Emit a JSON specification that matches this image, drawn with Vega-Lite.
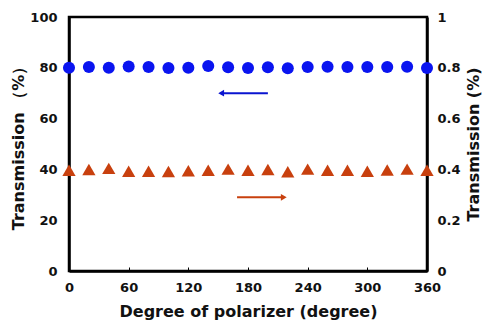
{
  "$schema": "https://vega.github.io/schema/vega-lite/v6.json",
  "width": 358,
  "height": 254,
  "autosize": "none",
  "padding": {"left": 69, "top": 17, "right": 56, "bottom": 51},
  "config": {
    "font": "DejaVu Sans",
    "view": {"stroke": "black", "strokeWidth": 2.5},
    "axis": {"labelFont": "DejaVu Sans", "labelFontWeight": "bold", "labelFontSize": 13, "labelColor": "#111", "titleFont": "DejaVu Sans", "titleFontWeight": "bold", "titleFontSize": 16, "titleColor": "#111", "grid": false, "domainColor": "black", "domainWidth": 2.5, "tickColor": "black"}
  },
  "datasets": {
    "blue": [
      {"deg": 0, "t": 80.0}, {"deg": 20, "t": 80.3}, {"deg": 40, "t": 80.0}, {"deg": 60, "t": 80.5},
      {"deg": 80, "t": 80.3}, {"deg": 100, "t": 79.9}, {"deg": 120, "t": 80.0}, {"deg": 140, "t": 80.7},
      {"deg": 160, "t": 80.2}, {"deg": 180, "t": 79.9}, {"deg": 200, "t": 80.2}, {"deg": 220, "t": 79.8},
      {"deg": 240, "t": 80.3}, {"deg": 260, "t": 80.4}, {"deg": 280, "t": 80.3}, {"deg": 300, "t": 80.3},
      {"deg": 320, "t": 80.3}, {"deg": 340, "t": 80.4}, {"deg": 360, "t": 79.9}
    ],
    "orange": [
      {"deg": 0, "t": 0.397}, {"deg": 20, "t": 0.400}, {"deg": 40, "t": 0.404}, {"deg": 60, "t": 0.393},
      {"deg": 80, "t": 0.393}, {"deg": 100, "t": 0.392}, {"deg": 120, "t": 0.395}, {"deg": 140, "t": 0.397},
      {"deg": 160, "t": 0.401}, {"deg": 180, "t": 0.397}, {"deg": 200, "t": 0.400}, {"deg": 220, "t": 0.391},
      {"deg": 240, "t": 0.401}, {"deg": 260, "t": 0.397}, {"deg": 280, "t": 0.397}, {"deg": 300, "t": 0.393},
      {"deg": 320, "t": 0.398}, {"deg": 340, "t": 0.401}, {"deg": 360, "t": 0.397}
    ],
    "arrowBlue": [{"x1": 153, "x2": 200, "y": 70}],
    "arrowOrange": [{"x1": 169, "x2": 216, "y": 0.29}]
  },
  "layer": [
    {
      "layer": [
        {
          "data": {"name": "blue"},
          "mark": {"type": "point", "shape": "circle", "filled": true, "opacity": 1, "size": 145, "color": "#0a14f0"},
          "encoding": {
            "x": {"field": "deg", "type": "quantitative", "scale": {"domain": [0, 360], "nice": false}, "axis": {"values": [0, 60, 120, 180, 240, 300, 360], "title": "Degree of polarizer (degree)", "labelFlush": false, "labelOverlap": false, "tickSize": -4, "tickWidth": 1, "labelPadding": 14, "titlePadding": 9}},
            "y": {"field": "t", "type": "quantitative", "scale": {"domain": [0, 100], "nice": false}, "axis": {"values": [0, 20, 40, 60, 80, 100], "title": "Transmission （%）", "labelFlush": false, "tickSize": 0, "labelPadding": 12, "titlePadding": 3}}
          }
        },
        {
          "data": {"name": "arrowBlue"},
          "mark": {"type": "rule", "color": "#0a14d0", "strokeWidth": 2},
          "encoding": {
            "x": {"field": "x1", "type": "quantitative"},
            "x2": {"field": "x2"},
            "y": {"field": "y", "type": "quantitative"}
          }
        },
        {
          "data": {"name": "arrowBlue"},
          "mark": {"type": "point", "shape": "triangle-left", "filled": true, "opacity": 1, "size": 45, "color": "#0a14d0"},
          "encoding": {
            "x": {"field": "x1", "type": "quantitative"},
            "y": {"field": "y", "type": "quantitative"}
          }
        }
      ]
    },
    {
      "layer": [
        {
          "data": {"name": "orange"},
          "mark": {"type": "point", "shape": "triangle-up", "filled": true, "opacity": 1, "size": 175, "color": "#c8400e"},
          "encoding": {
            "x": {"field": "deg", "type": "quantitative"},
            "y": {"field": "t", "type": "quantitative", "scale": {"domain": [0, 1], "nice": false}, "axis": {"orient": "right", "values": [0, 0.2, 0.4, 0.6, 0.8, 1], "format": ".1~f", "labelFlush": false, "title": "Transmission (%)", "titleAngle": 270, "titleBaseline": "top", "tickSize": 0, "labelPadding": 10, "titlePadding": 5}}
          }
        },
        {
          "data": {"name": "arrowOrange"},
          "mark": {"type": "rule", "color": "#c8400e", "strokeWidth": 2},
          "encoding": {
            "x": {"field": "x1", "type": "quantitative"},
            "x2": {"field": "x2"},
            "y": {"field": "y", "type": "quantitative"}
          }
        },
        {
          "data": {"name": "arrowOrange"},
          "mark": {"type": "point", "shape": "triangle-right", "filled": true, "opacity": 1, "size": 45, "color": "#c8400e"},
          "encoding": {
            "x": {"field": "x2", "type": "quantitative"},
            "y": {"field": "y", "type": "quantitative"}
          }
        }
      ]
    }
  ],
  "resolve": {"scale": {"y": "independent"}}
}
